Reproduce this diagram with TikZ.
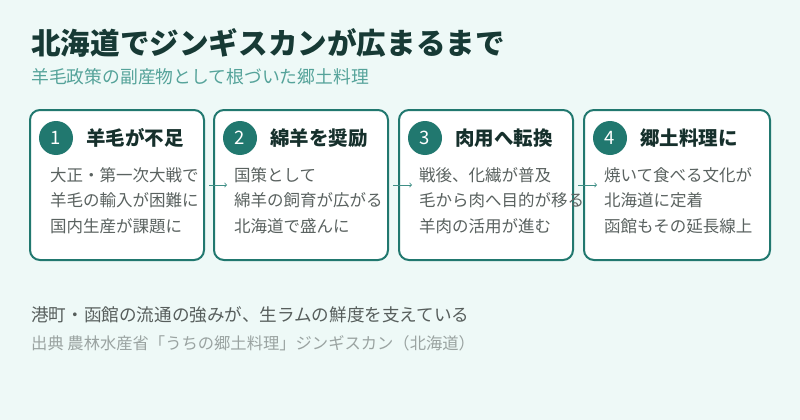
\documentclass[tikz,border=0pt]{standalone}
\usepackage{fontspec}
\usepackage{tikz}
\usetikzlibrary{shapes,arrows}
\usetikzlibrary{calc}
\newfontfamily\jp{Noto Sans CJK JP}
\definecolor{bgc}{HTML}{EEF9F7}
\definecolor{titlec}{HTML}{173A35}
\definecolor{subc}{HTML}{55A39A}
\definecolor{tealc}{HTML}{21786F}
\definecolor{arrc}{HTML}{3F8F86}
\definecolor{headc}{HTML}{16302C}
\definecolor{bodyc}{HTML}{5A6260}
\definecolor{notec}{HTML}{575E5C}
\definecolor{srcc}{HTML}{9AA3A1}

\begin{document}
\begin{tikzpicture}[x=1pt, y=-1pt,
	card/.style={draw=tealc, line width=2pt, fill=white, rounded corners=10pt, minimum height=150pt, inner sep=0pt},
	badge/.style={circle, fill=tealc, minimum size=34pt, inner sep=0pt, text=white, font=\jp\fontsize{18.5}{18.5}\selectfont},
	head/.style={anchor=west, inner sep=0pt, text=headc, font=\jp\bfseries\fontsize{19.5}{19.5}\selectfont},
	body/.style={anchor=north west, inner sep=0pt, align=left, text=bodyc, font=\jp\fontsize{16.5}{25.8}\selectfont},
	flow/.style={->, draw=arrc, line width=0.8pt, shorten <=4pt, shorten >=-14pt}]
	\fill[bgc] (0,0) rectangle (800,420);
	\useasboundingbox (0,0) rectangle (800,420);
	
	\node[anchor=west, inner sep=0pt, text=titlec, font=\jp\bfseries\fontsize{29.6}{29.6}\selectfont] (title) at (31,43) {北海道でジンギスカンが広まるまで};
	\node[anchor=west, inner sep=0pt, text=subc, font=\jp\fontsize{17.8}{17.8}\selectfont] (sub) at (31,77) {羊毛政策の副産物として根づいた郷土料理};
	
	\node[card, minimum width=174pt] (b1) at (117,185) {};
	\node[card, minimum width=174pt] (b2) at (301,185) {};
	\node[card, minimum width=174pt] (b3) at (486,185) {};
	\node[card, minimum width=186pt] (b4) at (677,185) {};
	
	\node[badge] (n1) at ($(b1.north west)+(27,29)$) {1};
	\node[badge] (n2) at ($(b2.north west)+(27,29)$) {2};
	\node[badge] (n3) at ($(b3.north west)+(27,29)$) {3};
	\node[badge] (n4) at ($(b4.north west)+(27,29)$) {4};
	
	\node[head] (h1) at ($(n1.east)+(13,0)$) {羊毛が不足};
	\node[head] (h2) at ($(n2.east)+(13,0)$) {綿羊を奨励};
	\node[head] (h3) at ($(n3.east)+(13,0)$) {肉用へ転換};
	\node[head] (h4) at ($(n4.east)+(13,0)$) {郷土料理に};
	
	\node[body] (t1) at ($(b1.north west)+(21,58)$) {大正・第一次大戦で\\羊毛の輸入が困難に\\国内生産が課題に};
	\node[body] (t2) at ($(b2.north west)+(21,58)$) {国策として\\綿羊の飼育が広がる\\北海道で盛んに};
	\node[body] (t3) at ($(b3.north west)+(21,58)$) {戦後、化繊が普及\\毛から肉へ目的が移る\\羊肉の活用が進む};
	\node[body] (t4) at ($(b4.north west)+(21,58)$) {焼いて食べる文化が\\北海道に定着\\函館もその延長線上};
	
	\draw[flow] (b1.east) -- (b2.west);
	\draw[flow] (b2.east) -- (b3.west);
	\draw[flow] (b3.east) -- (b4.west);
	
	\node[anchor=west, inner sep=0pt, text=notec, font=\jp\fontsize{17.6}{17.6}\selectfont] (note) at (31,315) {港町・函館の流通の強みが、生ラムの鮮度を支えている};
	\node[anchor=west, inner sep=0pt, text=srcc, font=\jp\fontsize{16.3}{16.3}\selectfont] (src) at (31,343) {出典 農林水産省「うちの郷土料理」ジンギスカン（北海道）};
\end{tikzpicture}
\end{document}
